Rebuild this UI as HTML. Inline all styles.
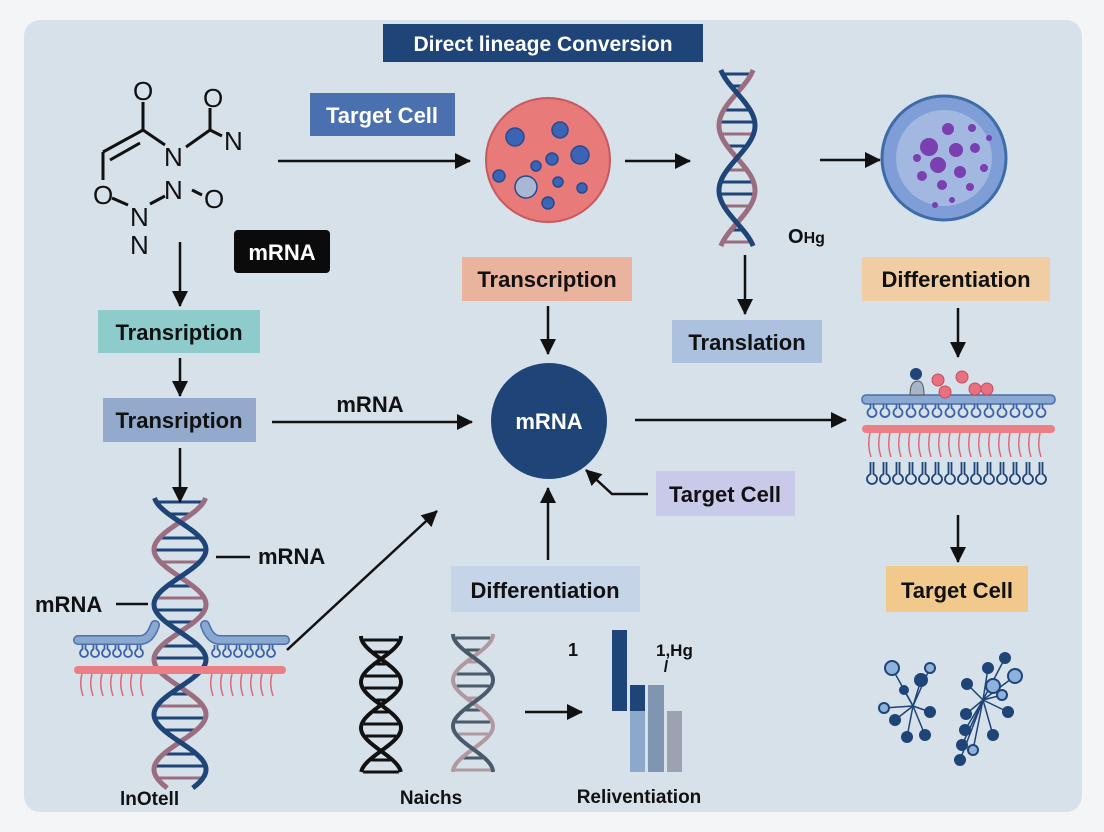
<!DOCTYPE html>
<html><head><meta charset="utf-8"><style>
html,body{margin:0;padding:0;background:#f3f5f7;}
svg{display:block;}
text{font-family:"Liberation Sans",sans-serif;font-weight:bold;}
text.n{font-weight:normal;}
</style></head><body>
<svg id="s" width="1104" height="832" viewBox="0 0 1104 832" xmlns="http://www.w3.org/2000/svg">
<defs>
<marker id="ah2" markerWidth="16" markerHeight="16" refX="15" refY="8" orient="auto" markerUnits="userSpaceOnUse"><path d="M0,0 L16,8 L0,16 z" fill="#111"/></marker>
</defs>
<rect x="24" y="20" width="1058" height="792" rx="16" fill="#d6e1ea"/>
<g id="shapes"></g>
<rect x="383" y="24" width="320" height="38" fill="#1e4478"/>
<text x="543" y="51" font-size="21" fill="#fff" text-anchor="middle">Direct lineage Conversion</text>
<g stroke="#111" stroke-width="3" fill="none">
<line x1="143" y1="102" x2="143" y2="130"/>
<line x1="143" y1="130" x2="103" y2="152"/><line x1="110" y1="160" x2="140" y2="143"/>
<line x1="103" y1="152" x2="103" y2="180"/>
<line x1="143" y1="130" x2="165" y2="145"/>
<line x1="186" y1="147" x2="210" y2="130"/><line x1="210" y1="130" x2="210" y2="108"/><line x1="210" y1="130" x2="222" y2="136"/>
<line x1="112" y1="198" x2="128" y2="205"/><line x1="150" y1="204" x2="165" y2="196"/>
<line x1="192" y1="190" x2="202" y2="195"/>
</g>
<g font-size="26" fill="#111">
<text class="n" x="133" y="100">O</text>
<text class="n" x="203" y="107">O</text>
<text class="n" x="224" y="150">N</text>
<text class="n" x="164" y="166">N</text>
<text class="n" x="93" y="204">O</text>
<text class="n" x="164" y="199">N</text>
<text class="n" x="204" y="208">O</text>
<text class="n" x="130" y="226">N</text>
<text class="n" x="130" y="254">N</text>
</g>
<g stroke="#111" stroke-width="2.5" fill="none">
<line x1="278" y1="161" x2="470" y2="161" marker-end="url(#ah2)"/>
<line x1="625" y1="161" x2="690" y2="161" marker-end="url(#ah2)"/>
<line x1="820" y1="160" x2="880" y2="160" marker-end="url(#ah2)"/>
<line x1="180" y1="242" x2="180" y2="306" marker-end="url(#ah2)"/>
<line x1="180" y1="358" x2="180" y2="396" marker-end="url(#ah2)"/>
<line x1="180" y1="448" x2="180" y2="502" marker-end="url(#ah2)"/>
<line x1="272" y1="422" x2="472" y2="422" marker-end="url(#ah2)"/>
<line x1="548" y1="306" x2="548" y2="354" marker-end="url(#ah2)"/>
<line x1="745" y1="255" x2="745" y2="314" marker-end="url(#ah2)"/>
<line x1="958" y1="308" x2="958" y2="357" marker-end="url(#ah2)"/>
<line x1="635" y1="420" x2="846" y2="420" marker-end="url(#ah2)"/>
<line x1="958" y1="515" x2="958" y2="562" marker-end="url(#ah2)"/>
<polyline points="648,494 612,494 586,470" marker-end="url(#ah2)"/>
<line x1="548" y1="560" x2="548" y2="488" marker-end="url(#ah2)"/>
<line x1="287" y1="650" x2="437" y2="511" marker-end="url(#ah2)"/>
<line x1="525" y1="712" x2="582" y2="712" marker-end="url(#ah2)"/>
<line x1="216" y1="557" x2="250" y2="557"/>
<line x1="116" y1="604" x2="148" y2="604"/>
</g>
<rect x="310" y="93" width="145" height="43" fill="#4a70b0"/>
<text x="382" y="123" font-size="22" fill="#fff" text-anchor="middle">Target Cell</text>
<rect x="234" y="230" width="96" height="43" rx="4" fill="#0b0b0b"/>
<text x="282" y="260" font-size="22" fill="#fff" text-anchor="middle">mRNA</text>
<rect x="98" y="310" width="162" height="43" fill="#8ecccc"/>
<text x="179" y="340" font-size="22" fill="#111" text-anchor="middle">Transription</text>
<rect x="103" y="398" width="153" height="44" fill="#93aacc"/>
<text x="179" y="428" font-size="22" fill="#111" text-anchor="middle">Transription</text>
<text x="370" y="412" font-size="22" fill="#111" text-anchor="middle">mRNA</text>
<rect x="462" y="257" width="170" height="44" fill="#e9b39d"/>
<text x="547" y="287" font-size="22" fill="#111" text-anchor="middle">Transcription</text>
<rect x="672" y="320" width="150" height="43" fill="#abc1dd"/>
<text x="747" y="350" font-size="22" fill="#111" text-anchor="middle">Translation</text>
<rect x="862" y="257" width="188" height="44" fill="#f0cda3"/>
<text x="956" y="287" font-size="22" fill="#111" text-anchor="middle">Differentiation</text>
<rect x="656" y="471" width="139" height="45" fill="#c9c9e9"/>
<text x="725" y="502" font-size="22" fill="#111" text-anchor="middle">Target Cell</text>
<rect x="451" y="566" width="189" height="46" fill="#c5d4e6"/>
<text x="545" y="598" font-size="22" fill="#111" text-anchor="middle">Differentiation</text>
<rect x="886" y="566" width="142" height="46" fill="#f1c98d"/>
<text x="957" y="598" font-size="22" fill="#111" text-anchor="middle">Target Cell</text>
<circle cx="548" cy="160" r="62" fill="#e97a7a" stroke="#c65a60" stroke-width="2"/>
<g fill="#3c64b4" stroke="#254a90" stroke-width="1.5">
<circle cx="515" cy="137" r="9"/><circle cx="560" cy="130" r="8"/><circle cx="580" cy="155" r="9"/><circle cx="552" cy="159" r="6"/><circle cx="536" cy="166" r="5"/><circle cx="499" cy="176" r="6"/><circle cx="558" cy="182" r="5"/><circle cx="582" cy="188" r="5"/><circle cx="548" cy="203" r="6"/>
<circle cx="526" cy="187" r="11" fill="#a8b8d4"/>
</g>
<circle cx="944" cy="158" r="62" fill="#7f9dd6" stroke="#3e6ca8" stroke-width="3"/>
<circle cx="944" cy="158" r="48" fill="#a3b8e0"/>
<g fill="#7a3fb0">
<circle cx="929" cy="147" r="9"/><circle cx="948" cy="129" r="6"/><circle cx="956" cy="150" r="7"/><circle cx="938" cy="165" r="8"/><circle cx="960" cy="172" r="6"/><circle cx="975" cy="148" r="5"/><circle cx="922" cy="176" r="5"/><circle cx="942" cy="185" r="5"/><circle cx="970" cy="187" r="4"/><circle cx="972" cy="128" r="4"/><circle cx="984" cy="168" r="4"/><circle cx="917" cy="158" r="4"/><circle cx="952" cy="200" r="3"/><circle cx="935" cy="205" r="3"/><circle cx="989" cy="138" r="3"/>
</g>
<circle cx="549" cy="421" r="58" fill="#1e4478"/>
<text x="549" y="429" font-size="22" fill="#fff" text-anchor="middle">mRNA</text>
<text x="788" y="243" font-size="20" fill="#111">O<tspan font-size="16">Hg</tspan></text>
<text x="258" y="564" font-size="22" fill="#111">mRNA</text>
<text x="35" y="612" font-size="22" fill="#111">mRNA</text>
<text x="120" y="805" font-size="19" fill="#111">lnOtell</text>
<text x="431" y="804" font-size="19" fill="#111" text-anchor="middle">Naichs</text>
<text x="639" y="803" font-size="19" fill="#111" text-anchor="middle">Reliventiation</text>
<text x="568" y="656" font-size="18" fill="#111">1</text>
<text x="656" y="656" font-size="17" fill="#111">1,Hg</text>
<line x1="667" y1="660" x2="665" y2="672" stroke="#111" stroke-width="2"/>
<rect x="612" y="630" width="15" height="81" fill="#1e4478"/>
<rect x="630" y="685" width="15" height="26" fill="#1e4478"/>
<rect x="630" y="711" width="15" height="61" fill="#8ea8cc"/>
<rect x="648" y="685" width="16" height="87" fill="#8096b0"/>
<rect x="667" y="711" width="15" height="61" fill="#9ca2b2"/>
</svg>
<script>
var NS="http://www.w3.org/2000/svg",g=document.getElementById("shapes");
function el(t,a){var e=document.createElementNS(NS,t);for(var k in a)e.setAttribute(k,a[k]);g.appendChild(e);return e;}
function helix(cx,w,y0,y1,P,yc,cA,cB,sw){
 var a="",b="",i=0;
 for(var y=y0+4;y<=y1;y+=12){i++;var s=Math.sin(2*Math.PI*(y-yc)/P);var r=Math.abs(s);
  if(r>0.3)el("line",{x1:cx-w*r+2,x2:cx+w*r-2,y1:y,y2:y,stroke:(i%3==0)?cB:cA,"stroke-width":3});}
 for(var y=y0;y<=y1;y+=2){var s=Math.sin(2*Math.PI*(y-yc)/P);a+=(y==y0?"M":"L")+(cx+w*s)+","+y;b+=(y==y0?"M":"L")+(cx-w*s)+","+y;}
 el("path",{d:b,stroke:cB,"stroke-width":sw,fill:"none"});
 el("path",{d:a,stroke:cA,"stroke-width":sw,fill:"none"});
}
helix(737,18,70,246,130,93,"#1e4478","#9a6e80",5);
helix(180,26,498,788,110,522,"#1e4478","#9a6e80",5);
helix(381,20,636,772,92,659,"#111","#111",4);
helix(473,20,634,772,92,657,"#4a5a6a","#b09aa0",4);
function lolli(x,y,L,R,c){el("path",{d:"M"+(x-1.5)+","+y+" L"+(x-1.5)+","+(y+L)+" Q"+(x-R)+","+(y+L+2)+" "+(x-R)+","+(y+L+R)+" A"+R+","+R+" 0 0 0 "+(x+R)+","+(y+L+R)+" Q"+(x+R)+","+(y+L+2)+" "+(x+1.5)+","+(y+L)+" L"+(x+1.5)+","+y,stroke:c,"stroke-width":1.8,fill:"none"});}
el("rect",{x:862,y:395,width:193,height:9,rx:4,fill:"#8aa8d0",stroke:"#4a70b0","stroke-width":1.5});
for(var x=872;x<1050;x+=13)lolli(x,404,4,4.5,"#3a62a8");
el("rect",{x:862,y:425,width:193,height:8,rx:4,fill:"#ec7e86"});
for(var x=870;x<1050;x+=10)el("path",{d:"M"+x+",433 q-3,12 1,24",stroke:"#e06a78","stroke-width":1.5,fill:"none"});
for(var x=872;x<1050;x+=13)lolli(x,462,12,5,"#1e4478");
el("circle",{cx:916,cy:374,r:6,fill:"#1e4478"});el("path",{d:"M910,395 q0,-14 8,-14 q6,0 6,14z",fill:"#a8b4c8",stroke:"#555"});
[[938,380],[945,392],[962,377],[975,389],[987,389]].forEach(function(p){el("circle",{cx:p[0],cy:p[1],r:6,fill:"#e87080",stroke:"#c05060"});});
el("path",{d:"M78,640 H140 Q150,640 155,625 M205,625 Q210,640 220,640 H285",stroke:"#4a70b0","stroke-width":10,fill:"none","stroke-linecap":"round"});
el("path",{d:"M78,640 H140 Q150,640 155,625 M205,625 Q210,640 220,640 H285",stroke:"#8aa8d0","stroke-width":7,fill:"none","stroke-linecap":"round"});
for(var x=84;x<280;x+=11){if(x>148&&x<214)continue;lolli(x,645,4,4,"#3a62a8");}
el("rect",{x:74,y:666,width:212,height:8,rx:4,fill:"#ec7e86"});
for(var x=82;x<282;x+=10){if(x>150&&x<212)continue;el("path",{d:"M"+x+",674 q-3,10 1,22",stroke:"#e06a78","stroke-width":1.5,fill:"none"});}
var n1=[913,706],n2=[983,700];
[[892,668,7,1],[921,680,6,0],[930,668,5,1],[904,690,4,0],[884,708,5,1],[895,720,5,0],[907,737,5,0],[925,735,5,0],[930,712,5,0]].forEach(function(p){el("line",{x1:n1[0],y1:n1[1],x2:p[0],y2:p[1],stroke:"#1e4478","stroke-width":1.5});el("circle",{cx:p[0],cy:p[1],r:p[2],fill:p[3]?"#8eb2dc":"#1e4478",stroke:"#1e4478","stroke-width":2});});
[[1005,658,5,0],[988,668,5,0],[1015,676,7,1],[967,684,5,0],[1002,695,5,1],[1008,712,5,0],[966,714,5,0],[965,730,5,0],[993,735,5,0],[962,745,5,0],[973,750,5,1],[960,760,5,0]].forEach(function(p){el("line",{x1:n2[0],y1:n2[1],x2:p[0],y2:p[1],stroke:"#1e4478","stroke-width":1.5});el("circle",{cx:p[0],cy:p[1],r:p[2],fill:p[3]?"#8eb2dc":"#1e4478",stroke:"#1e4478","stroke-width":2});});
el("circle",{cx:993,cy:686,r:7,fill:"#8eb2dc",stroke:"#1e4478","stroke-width":2});
</script>
</body></html>
